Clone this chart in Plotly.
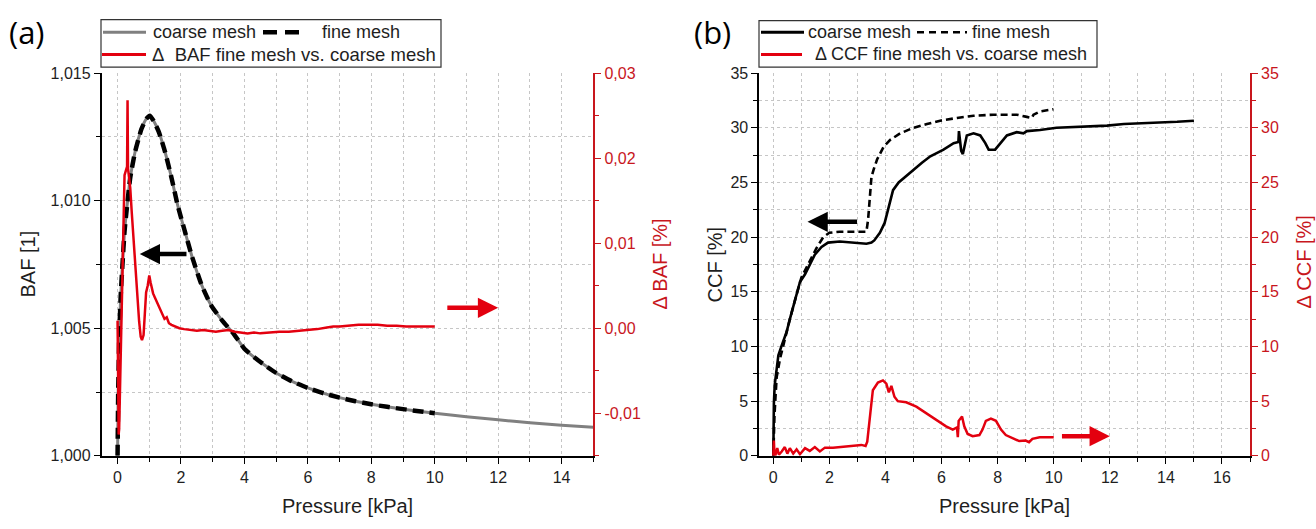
import plotly.graph_objects as go

W, H = 1316, 529

# ---------------- (a) bubble area factor ----------------
baf_p = [0.0, 0.02, 0.05, 0.10, 0.15, 0.22, 0.30, 0.40, 0.55, 0.75, 0.90, 1.02, 1.15, 1.30,
         1.50, 1.70, 1.90, 2.10, 2.35, 2.65, 2.95, 3.30, 3.65, 4.00, 4.35, 4.70, 5.00, 5.50,
         6.00, 6.50, 7.00, 7.50, 8.00, 8.50, 9.00, 9.50, 10.00, 11.00, 12.00, 13.00, 14.00, 15.00]
baf_coarse = [1.0000, 1.0025, 1.0045, 1.0063, 1.0074, 1.0088, 1.0098, 1.0109, 1.0119, 1.0128,
              1.0132, 1.01333, 1.0131, 1.0127, 1.0119, 1.0109, 1.0098, 1.0089, 1.0078, 1.0067,
              1.0059, 1.0053, 1.0048, 1.0042, 1.00382, 1.0035, 1.00325, 1.00292, 1.00266,
              1.00245, 1.00228, 1.00214, 1.00202, 1.00192, 1.00183, 1.00175, 1.00167, 1.00153,
              1.00141, 1.00130, 1.00120, 1.00112]

baf_fine_p = [0.0, 0.02, 0.05, 0.10, 0.15, 0.22, 0.30, 0.40, 0.55, 0.75, 0.90, 1.02, 1.15, 1.30,
              1.50, 1.70, 1.90, 2.10, 2.35, 2.65, 2.95, 3.30, 3.65, 4.00, 4.35, 4.70, 5.00, 5.50,
              6.00, 6.50, 7.00, 7.50, 8.00, 8.50, 9.00, 9.50, 10.00]
baf_fine = [1.0000, 1.0025, 1.0045, 1.0063, 1.0074, 1.0088, 1.0098, 1.0109, 1.0119, 1.0128,
            1.0132, 1.01333, 1.0131, 1.0127, 1.0119, 1.0109, 1.0098, 1.0089, 1.0078, 1.0067,
            1.0059, 1.0053, 1.0048, 1.0042, 1.00382, 1.0035, 1.00325, 1.00292, 1.00266,
            1.00245, 1.00228, 1.00214, 1.00202, 1.00192, 1.00183, 1.00175, 1.00167]

dbaf_p = [0.0, 0.01, 0.02, 0.035, 0.05, 0.07, 0.10, 0.13, 0.16, 0.19, 0.22, 0.26, 0.30, 0.315,
          0.33, 0.36, 0.40, 0.45, 0.50, 0.56, 0.62, 0.68, 0.73, 0.77, 0.82, 0.86, 0.90, 0.95,
          1.00, 1.04, 1.08, 1.12, 1.18, 1.24, 1.30, 1.36, 1.42, 1.48, 1.55, 1.62, 1.70, 1.80,
          1.95, 2.10, 2.30, 2.50, 2.70, 2.90, 3.10, 3.30, 3.50, 3.70, 3.90, 4.10, 4.30, 4.50,
          4.80, 5.10, 5.40, 5.70, 6.00, 6.30, 6.60, 6.80, 7.00, 7.30, 7.60, 7.90, 8.20, 8.50,
          8.80, 9.10, 9.40, 9.70, 10.00]
dbaf = [0.0009, -0.0020, -0.0095, -0.0125, -0.0118, -0.0085, -0.0030, 0.0030, 0.0095, 0.0150,
        0.0180, 0.0185, 0.0190, 0.0268, 0.0188, 0.0178, 0.0165, 0.0135, 0.0105, 0.0068,
        0.0035, 0.0008, -0.0010, -0.0014, -0.0008, 0.0022, 0.0042, 0.0050, 0.0062, 0.0054,
        0.0046, 0.0041, 0.0036, 0.0031, 0.0027, 0.0022, 0.0018, 0.0011, 0.0013, 0.0006,
        0.0004, 0.0002, 0.0000, -0.0001, -0.0002, -0.0003, -0.0002, -0.0003, -0.0004, -0.0003,
        -0.0002, -0.0004, -0.0005, -0.0006, -0.0005, -0.0006, -0.0005, -0.0004, -0.0004, -0.0003,
        -0.0002, -0.0001, 0.0001, 0.0002, 0.0002, 0.0003, 0.0004, 0.0004, 0.0004, 0.0003,
        0.0003, 0.0002, 0.0002, 0.0002, 0.0002]

dbaf_tickvals = [-0.01, 0.0, 0.01, 0.02, 0.03]
dbaf_ticktext = ["-0,01", "0,00", "0,01", "0,02", "0,03"]

# ---------------- (b) contact coverage factor ----------------
ccf_coarse_p = [0, 0.005, 0.02, 0.05, 0.1, 0.18, 0.3, 0.47, 0.59, 0.77, 0.95, 1.13, 1.3, 1.48,
                1.72, 1.95, 2.37, 2.96, 3.32, 3.5, 3.6, 3.8, 3.97, 4.09, 4.27, 4.47, 4.7, 5.0,
                5.3, 5.6, 6.07, 6.43, 6.6, 6.62, 6.66, 6.7, 6.76, 6.9, 7.14, 7.38, 7.56, 7.68,
                7.91, 8.09, 8.33, 8.68, 8.92, 9.04, 9.51, 10.1, 10.7, 11.3, 11.9, 12.5, 13.07,
                13.8, 14.4, 15.0]
ccf_coarse = [0, 1.5, 4.8, 6.5, 7.8, 9.2, 10.1, 11.3, 12.5, 14.2, 15.9, 16.6, 17.5, 18.4,
              19.1, 19.5, 19.6, 19.5, 19.4, 19.5, 19.7, 20.4, 21.3, 22.5, 24.3, 25.0, 25.5, 26.2,
              26.8, 27.4, 28.0, 28.6, 28.7, 29.7, 28.5, 27.9, 27.6, 29.3, 29.5, 29.3, 28.6, 28.0,
              28.0, 28.6, 29.3, 29.6, 29.5, 29.7, 29.8, 30.0, 30.06, 30.1, 30.2, 30.35, 30.4,
              30.45, 30.55, 30.65]

ccf_fine_p = [0, 0.01, 0.04, 0.08, 0.12, 0.24, 0.41, 0.59, 0.77, 1.0, 1.24, 1.54, 1.78, 2.0,
              2.37, 2.96, 3.32, 3.38, 3.44, 3.5, 3.58, 3.7, 3.94, 4.17, 4.53, 5.0, 5.48, 5.95,
              6.55, 7.14, 7.85, 8.33, 8.68, 9.04, 9.22, 9.28, 9.51, 9.99]
ccf_fine = [0, 1.5, 3.6, 5.5, 7.2, 8.9, 10.7, 12.5, 14.2, 16.3, 17.5, 19.0, 20.0, 20.4,
            20.5, 20.5, 20.5, 21.6, 24.0, 25.5, 26.2, 27.1, 28.3, 28.9, 29.5, 30.0, 30.35, 30.65,
            30.9, 31.1, 31.2, 31.2, 31.2, 31.0, 30.9, 31.2, 31.5, 31.7]

dccf_p = [0, 0.02, 0.04, 0.08, 0.14, 0.2, 0.3, 0.41, 0.5, 0.59, 0.71, 0.83, 0.95, 1.13, 1.3,
          1.48, 1.66, 1.84, 2.13, 2.49, 2.84, 3.14, 3.29, 3.35, 3.46, 3.55, 3.73, 3.91, 4.03,
          4.12, 4.21, 4.32, 4.44, 4.74, 5.1, 5.45, 5.8, 6.16, 6.4, 6.55, 6.58, 6.61, 6.73, 6.81,
          6.93, 7.11, 7.35, 7.46, 7.58, 7.76, 7.94, 8.12, 8.29, 8.53, 8.77, 9.0, 9.12, 9.24,
          9.36, 9.5, 9.75, 10.0]
dccf = [0, 1.4, 0.2, 0.1, 0.7, 0.1, 0.4, 0.8, 0.2, 0.7, 0.2, 0.6, 0.15, 0.7, 0.45,
        0.8, 0.4, 0.75, 0.75, 0.85, 0.9, 1.0, 0.9, 1.3, 3.9, 6.0, 6.7, 6.9, 6.6,
        5.8, 6.4, 5.4, 5.0, 4.9, 4.5, 3.9, 3.3, 2.7, 2.4, 2.6, 1.7, 3.2, 3.6, 2.7,
        2.0, 1.8, 1.9, 2.4, 3.2, 3.4, 3.2, 2.4, 1.9, 1.6, 1.35, 1.4, 1.25, 1.55,
        1.6, 1.7, 1.7, 1.7]

# ---------------- styling ----------------
RED = "#e3000f"
AXRED = "#c8161d"
GREY = "#808080"
GRID = "#c6c6c6"
GRIDDASH = "3px,3px"
INK = "#1e1e1e"
FONT = "Liberation Sans, Arial, sans-serif"


def px(x):
    return x / W


def py(y):
    return 1 - y / H


fig = go.Figure()

# panel (a)
fig.add_trace(go.Scatter(x=baf_p, y=baf_coarse, mode="lines", xaxis="x", yaxis="y",
                         line=dict(color=GREY, width=3, shape="spline", smoothing=0.5)))
fig.add_trace(go.Scatter(x=baf_fine_p, y=baf_fine, mode="lines", xaxis="x", yaxis="y",
                         line=dict(color="black", width=4.5, dash="11px,6px",
                                   shape="spline", smoothing=0.5)))
fig.add_trace(go.Scatter(x=dbaf_p, y=dbaf, mode="lines", xaxis="x", yaxis="y2",
                         line=dict(color=RED, width=2.5)))

# panel (b)
fig.add_trace(go.Scatter(x=ccf_coarse_p, y=ccf_coarse, mode="lines", xaxis="x2", yaxis="y3",
                         line=dict(color="black", width=2.6)))
fig.add_trace(go.Scatter(x=ccf_fine_p, y=ccf_fine, mode="lines", xaxis="x2", yaxis="y3",
                         line=dict(color="black", width=2.6, dash="7px,4px")))
fig.add_trace(go.Scatter(x=dccf_p, y=dccf, mode="lines", xaxis="x2", yaxis="y4",
                         line=dict(color=RED, width=2.5)))

YDOM = [py(462.7), py(67.3)]


def x_axis(domain, rng, anchor):
    return dict(domain=domain, range=rng, anchor=anchor, tick0=0, dtick=2,
                ticks="outside", ticklen=6, tickwidth=1.4, tickcolor="black",
                showline=True, linecolor="black", linewidth=1.8, zeroline=False,
                showgrid=True, gridcolor=GRID, griddash=GRIDDASH, gridwidth=1,
                tickfont=dict(size=16, color=INK, family=FONT),
                minor=dict(tick0=0, dtick=1, ticks="outside", ticklen=4, tickwidth=1.2,
                           tickcolor="black", showgrid=True, gridcolor=GRID,
                           griddash=GRIDDASH, gridwidth=1))


def y_left(rng, dtick, minor, anchor, fmt=None):
    d = dict(domain=YDOM, range=rng, anchor=anchor, tick0=rng[0], dtick=dtick,
             ticks="outside", ticklen=6, tickwidth=1.4, tickcolor="black",
             showline=True, linecolor="black", linewidth=1.8, zeroline=False,
             showgrid=True, gridcolor=GRID, griddash=GRIDDASH, gridwidth=1,
             tickfont=dict(size=16, color=INK, family=FONT),
             minor=dict(tick0=rng[0], dtick=minor, ticks="outside", ticklen=4, tickwidth=1.2,
                        tickcolor="black", showgrid=True, gridcolor=GRID,
                        griddash=GRIDDASH, gridwidth=1))
    if fmt:
        d["tickformat"] = fmt
    return d


def y_right(rng, overlay, anchor, minor, **kw):
    d = dict(range=rng, overlaying=overlay, anchor=anchor, side="right",
             ticks="outside", ticklen=6, tickwidth=1.4, tickcolor=AXRED,
             showline=True, linecolor=AXRED, linewidth=1.8, zeroline=False,
             showgrid=False, tickfont=dict(size=16, color=AXRED, family=FONT),
             minor=dict(tickmode="linear", tick0=0, dtick=minor, ticks="outside",
                        ticklen=4, tickwidth=1.2, tickcolor=AXRED, showgrid=False))
    d.update(kw)
    return d


fig.update_layout(
    width=W, height=H, margin=dict(l=0, r=0, t=0, b=0),
    paper_bgcolor="white", plot_bgcolor="white", showlegend=False,
    separators=",.", font=dict(family=FONT, color=INK),
    xaxis=x_axis([px(101.7), px(593.3)], [-0.5, 15], "y"),
    yaxis=y_left([1.0, 1.015], 0.005, 0.0025, "x", ".3f"),
    yaxis2=y_right([-0.015, 0.03], "y", "x", 0.005,
                   tickmode="array", tickvals=dbaf_tickvals, ticktext=dbaf_ticktext),
    xaxis2=x_axis([px(759.3), px(1250)], [-0.5, 17], "y3"),
    yaxis3=y_left([0, 35], 5, 2.5, "x2"),
    yaxis4=y_right([0, 35], "y3", "x2", 2.5, tick0=0, dtick=5),
)

ann = []


def label(text, x, y, size=20, color=INK, angle=0, anchor="center", family=FONT):
    ann.append(dict(text=text, x=px(x), y=py(y), xref="paper", yref="paper",
                    xanchor=anchor, yanchor="middle", showarrow=False, textangle=angle,
                    font=dict(size=size, color=color, family=family)))


# axis titles and panel tags
label("BAF [1]", 28, 265, angle=-90)
label("\u0394 BAF [%]", 660, 265, color=AXRED, angle=-90)
label("Pressure [kPa]", 347.5, 515)
label("CCF [%]", 715, 265, angle=-90)
label("\u0394 CCF [%]", 1304, 263, color=AXRED, angle=-90)
label("Pressure [kPa]", 1004.7, 515)
label("(a)", 27, 25, size=31, color="black", family="Open Sans, sans-serif")
label("(b)", 712, 25, size=31, color="black", family="Open Sans, sans-serif")

# legend texts
label("coarse mesh", 151, 25, size=18, anchor="left")
label("fine mesh", 320, 25, size=18, anchor="left")
label("\u0394\u00a0 BAF fine mesh vs. coarse mesh", 150, 48, size=18.5, anchor="left")
label("coarse mesh", 806, 25, size=18, anchor="left")
label("fine mesh", 970, 25, size=18, anchor="left")
label("\u0394 CCF fine mesh vs. coarse mesh", 813, 48, size=18, anchor="left")


def arrow(x_head, x_tail, y, xref, yref, color):
    ann.append(dict(x=x_head, y=y, ax=x_tail, ay=y, xref=xref, yref=yref,
                    axref=xref, ayref=yref, text="", showarrow=True, arrowhead=2,
                    arrowsize=0.9, arrowwidth=4.5, arrowcolor=color, standoff=0))


arrow(0.70, 2.22, 1.00791, "x", "y", "black")
arrow(12.0, 10.35, 0.0024, "x", "y2", RED)
arrow(1.22, 3.04, 21.4, "x2", "y3", "black")
arrow(12.0, 10.24, 1.8, "x2", "y4", RED)

shapes = []


def seg(x0, x1, y, color, width, dash="solid"):
    shapes.append(dict(type="line", xref="paper", yref="paper", x0=px(x0), x1=px(x1),
                       y0=py(y), y1=py(y), line=dict(color=color, width=width, dash=dash)))


def box(x0, x1, y0, y1):
    shapes.append(dict(type="rect", xref="paper", yref="paper", x0=px(x0), x1=px(x1),
                       y0=py(y1), y1=py(y0), line=dict(color="#333", width=1.2),
                       fillcolor="white", layer="above"))


box(101, 441, 12, 61)
seg(103, 146, 25, GREY, 3)
seg(263, 299, 25, "black", 4.5, "14px,8px")
seg(102, 146, 48, RED, 3)

box(759, 1097, 13, 61)
seg(761, 804, 25, "black", 3)
seg(917, 967, 25, "black", 2.6, "7px,5px")
seg(761, 802, 48, RED, 3)

fig.update_layout(annotations=ann, shapes=shapes)
fig.write_html("out.html")
